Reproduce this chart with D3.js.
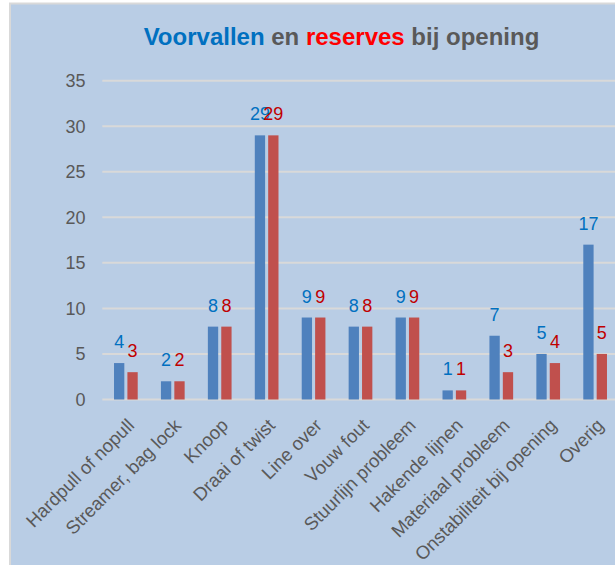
<!DOCTYPE html>
<html>
<head>
<meta charset="utf-8">
<script src="https://cdn.jsdelivr.net/npm/d3@7"></script>
<style>
  html, body { margin: 0; padding: 0; background: #ffffff; }
  svg { display: block; }
</style>
</head>
<body>
<svg id="chart" width="615" height="565"></svg>
<script>
const categories = ["Hardpull of nopull", "Streamer, bag lock", "Knoop", "Draai of twist", "Line over",
  "Vouw fout", "Stuurlijn probleem", "Hakende lijnen", "Materiaal probleem",
  "Onstabiliteit bij opening", "Overig"];
const voorvallen = [4, 2, 8, 29, 9, 8, 9, 1, 7, 5, 17];
const reserves   = [3, 2, 8, 29, 9, 8, 9, 1, 3, 4, 5];
const yTicks = [0, 5, 10, 15, 20, 25, 30, 35];
const seriesKeys = ["voorvallen", "reserves"];

const W = 615, H = 565;
const svg = d3.select("#chart");
const font = "'Liberation Sans', Arial, sans-serif";

// frame
svg.append("rect").attr("x", 0).attr("y", 0).attr("width", W).attr("height", H).attr("fill", "#ffffff");
svg.append("rect").attr("x", 10).attr("y", 3.5).attr("width", W + 10).attr("height", H + 10)
  .attr("fill", "#B9CDE5").attr("stroke", "#D9D9D9").attr("stroke-width", 2);

// title
const title = svg.append("text").attr("x", 341.5).attr("y", 45).attr("text-anchor", "middle")
  .attr("font-family", font).attr("font-size", 24).attr("font-weight", "bold");
title.append("tspan").attr("fill", "#0070C0").text("Voorvallen");
title.append("tspan").attr("fill", "#595959").text(" en ");
title.append("tspan").attr("fill", "#FF0000").text("reserves");
title.append("tspan").attr("fill", "#595959").text(" bij opening");

// scales
const x = d3.scaleBand().domain(categories).range([102.4, 618.6]).paddingInner(0.495).paddingOuter(0.2475);
const xs = d3.scaleBand().domain(seriesKeys).range([0, x.bandwidth()]).paddingInner(0.23);
const y = d3.scaleLinear().domain([0, 35]).range([399.5, 80.7]);

// gridlines
svg.append("g").selectAll("line").data(yTicks).join("line")
  .attr("x1", 102.3).attr("x2", W + 5)
  .attr("y1", d => y(d)).attr("y2", d => y(d))
  .attr("stroke", "#D9D9D9").attr("stroke-width", 2);

// y axis labels
const yAxis = d3.axisLeft(y).tickValues(yTicks).tickSize(0).tickPadding(0).tickFormat(d3.format("d"));
const gy = svg.append("g").attr("transform", "translate(85.5,0)").call(yAxis);
gy.select(".domain").remove();
gy.selectAll("text").attr("font-family", font).attr("font-size", 18).attr("fill", "#595959");

// bars
const data = categories.map((c, i) => ({ cat: c, voorvallen: voorvallen[i], reserves: reserves[i] }));
const colors = { voorvallen: "#4F81BD", reserves: "#C0504D" };
const labelColors = { voorvallen: "#0070C0", reserves: "#C00000" };

const groups = svg.append("g").selectAll("g").data(data).join("g")
  .attr("transform", d => `translate(${x(d.cat)},0)`);

groups.selectAll("rect").data(d => seriesKeys.map(k => ({ key: k, value: d[k] }))).join("rect")
  .attr("x", d => xs(d.key)).attr("width", xs.bandwidth())
  .attr("y", d => y(d.value)).attr("height", d => y(0) - y(d.value))
  .attr("fill", d => colors[d.key]);

groups.selectAll("text").data(d => seriesKeys.map(k => ({ key: k, value: d[k] }))).join("text")
  .attr("x", d => xs(d.key) + xs.bandwidth() / 2)
  .attr("y", d => y(d.value) - 15)
  .attr("text-anchor", "middle")
  .attr("font-family", font).attr("font-size", 18)
  .attr("fill", d => labelColors[d.key])
  .text(d => d.value);

// x axis labels
svg.append("g").selectAll("text").data(categories).join("text")
  .attr("transform", d => `translate(${x(d) + x.bandwidth() / 2 + 5},422) rotate(-45)`)
  .attr("text-anchor", "end").attr("dy", "0.35em")
  .attr("font-family", font).attr("font-size", 18.5).attr("fill", "#595959")
  .text(d => d);
</script>
</body>
</html>
